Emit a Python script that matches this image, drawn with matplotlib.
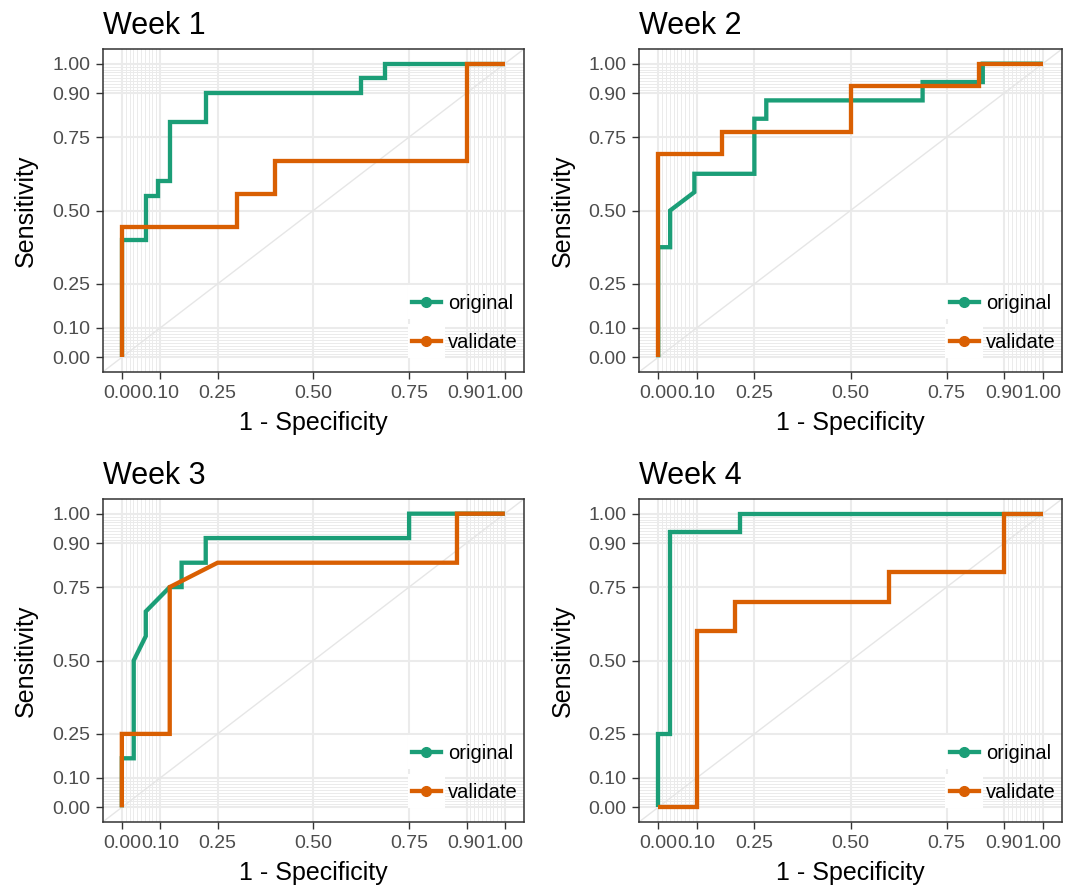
import matplotlib
matplotlib.use("Agg")
import matplotlib.pyplot as plt
from matplotlib.legend_handler import HandlerLine2D
from matplotlib.patches import Rectangle
from matplotlib.lines import Line2D

plt.rcParams['font.family'] = ['Liberation Sans', 'DejaVu Sans']

weeks = ['Week 1', 'Week 2', 'Week 3', 'Week 4']
groups = ['original', 'validate']
colors = {'original': '#1B9E77', 'validate': '#D95F02'}

# ROC points (1 - specificity, sensitivity)
fpf_w1_orig = [0, 0, 0.0625, 0.0625, 0.094, 0.094, 0.125, 0.125, 0.219, 0.219, 0.625, 0.625, 0.6875, 0.6875, 1]
tpf_w1_orig = [0, 0.4, 0.4, 0.55, 0.55, 0.6, 0.6, 0.8, 0.8, 0.9, 0.9, 0.95, 0.95, 1, 1]
fpf_w1_val = [0, 0, 0.3, 0.3, 0.4, 0.4, 0.9, 0.9, 1]
tpf_w1_val = [0, 0.444, 0.444, 0.556, 0.556, 0.667, 0.667, 1, 1]

fpf_w2_orig = [0, 0, 0.031, 0.031, 0.094, 0.094, 0.25, 0.25, 0.281, 0.281, 0.6875, 0.6875, 0.844, 0.844, 1]
tpf_w2_orig = [0, 0.375, 0.375, 0.5, 0.5625, 0.625, 0.625, 0.8125, 0.8125, 0.875, 0.875, 0.9375, 0.9375, 1, 1]
fpf_w2_val = [0, 0, 0.167, 0.167, 0.5, 0.5, 0.833, 0.833, 1]
tpf_w2_val = [0, 0.692, 0.692, 0.769, 0.769, 0.923, 0.923, 1, 1]

fpf_w3_orig = [0, 0, 0.031, 0.031, 0.0625, 0.0625, 0.125, 0.156, 0.156, 0.219, 0.219, 0.75, 0.75, 1]
tpf_w3_orig = [0, 0.167, 0.167, 0.5, 0.583, 0.667, 0.75, 0.75, 0.833, 0.833, 0.917, 0.917, 1, 1]
fpf_w3_val = [0, 0, 0.125, 0.125, 0.25, 0.875, 0.875, 1]
tpf_w3_val = [0, 0.25, 0.25, 0.75, 0.833, 0.833, 1, 1]

fpf_w4_orig = [0, 0, 0.031, 0.031, 0.212, 0.212, 1]
tpf_w4_orig = [0, 0.25, 0.25, 0.9375, 0.9375, 1, 1]
fpf_w4_val = [0, 0.1, 0.1, 0.2, 0.2, 0.6, 0.6, 0.9, 0.9, 1]
tpf_w4_val = [0, 0, 0.6, 0.6, 0.7, 0.7, 0.8, 0.8, 1, 1]

curves = [
    {'original': (fpf_w1_orig, tpf_w1_orig), 'validate': (fpf_w1_val, tpf_w1_val)},
    {'original': (fpf_w2_orig, tpf_w2_orig), 'validate': (fpf_w2_val, tpf_w2_val)},
    {'original': (fpf_w3_orig, tpf_w3_orig), 'validate': (fpf_w3_val, tpf_w3_val)},
    {'original': (fpf_w4_orig, tpf_w4_orig), 'validate': (fpf_w4_val, tpf_w4_val)},
]

major_ticks = [0, 0.1, 0.25, 0.5, 0.75, 0.9, 1.0]
tick_labels = ['0.00', '0.10', '0.25', '0.50', '0.75', '0.90', '1.00']
minor_ticks = [i / 100 for i in range(1, 10)] + [i / 100 for i in range(91, 100)]


class KeyHandler(HandlerLine2D):
    """legend key with white box behind it, like ggplot"""
    def create_artists(self, legend, orig_handle, xdescent, ydescent,
                       width, height, fontsize, trans):
        bg = Rectangle((-xdescent - 3, -ydescent - 7), width + 6, height + 14,
                       facecolor='white', edgecolor='none', transform=trans)
        arts = super().create_artists(legend, orig_handle, xdescent, ydescent,
                                      width, height, fontsize, trans)
        return [bg] + list(arts)


fig = plt.figure(figsize=(10.75, 8.86), dpi=100)
W, H = 1075, 886
boxes = [(102.7, 49, 524, 372), (639, 49, 1062, 372),
         (102.7, 499, 524, 822), (639, 499, 1062, 822)]

for i, (l, t, r, b) in enumerate(boxes):
    ax = fig.add_axes([l / W, 1 - b / H, (r - l) / W, (b - t) / H])
    ax.set_xlim(-0.05, 1.05)
    ax.set_ylim(-0.05, 1.05)
    ax.set_xticks(major_ticks)
    ax.set_xticklabels(tick_labels)
    ax.set_yticks(major_ticks)
    ax.set_yticklabels(tick_labels)
    ax.set_xticks(minor_ticks, minor=True)
    ax.set_yticks(minor_ticks, minor=True)
    ax.grid(which='major', color='#EBEBEB', lw=1.5)
    ax.grid(which='minor', color='#EBEBEB', lw=0.7)
    ax.set_axisbelow(True)
    ax.tick_params(which='major', length=4.7, width=1.0, color='#333333',
                   labelsize=14, labelcolor='#4D4D4D')
    ax.tick_params(axis='x', which='major', pad=5)
    ax.tick_params(axis='y', which='major', pad=4.4)
    ax.tick_params(which='minor', length=0)
    for s in ax.spines.values():
        s.set_color('#333333')
        s.set_linewidth(1.1)
    ax.axline((0, 0), slope=1, color='#E6E6E6', lw=1.0, zorder=1)

    for g in groups:
        x, y = curves[i][g]
        ax.plot(x, y, color=colors[g], lw=3.1, solid_capstyle='butt',
                solid_joinstyle='miter', zorder=3)

    ax.set_title(weeks[i], loc='left', fontsize=22, pad=10.5)
    ax.set_xlabel('1 - Specificity', fontsize=18, labelpad=6)
    ax.set_ylabel('Sensitivity', fontsize=18, labelpad=10)

    handles = [Line2D([], [], color=colors[g], lw=3.1, marker='o', markersize=7)
               for g in groups]
    ax.legend(handles, groups, loc='lower right', bbox_to_anchor=(0.985, 0.062),
              frameon=False, fontsize=14.5, numpoints=1, handlelength=1.45,
              handletextpad=0.35, labelspacing=1.0, borderpad=0, borderaxespad=0,
              handler_map={Line2D: KeyHandler()})

fig.savefig('out.png', dpi=100)
